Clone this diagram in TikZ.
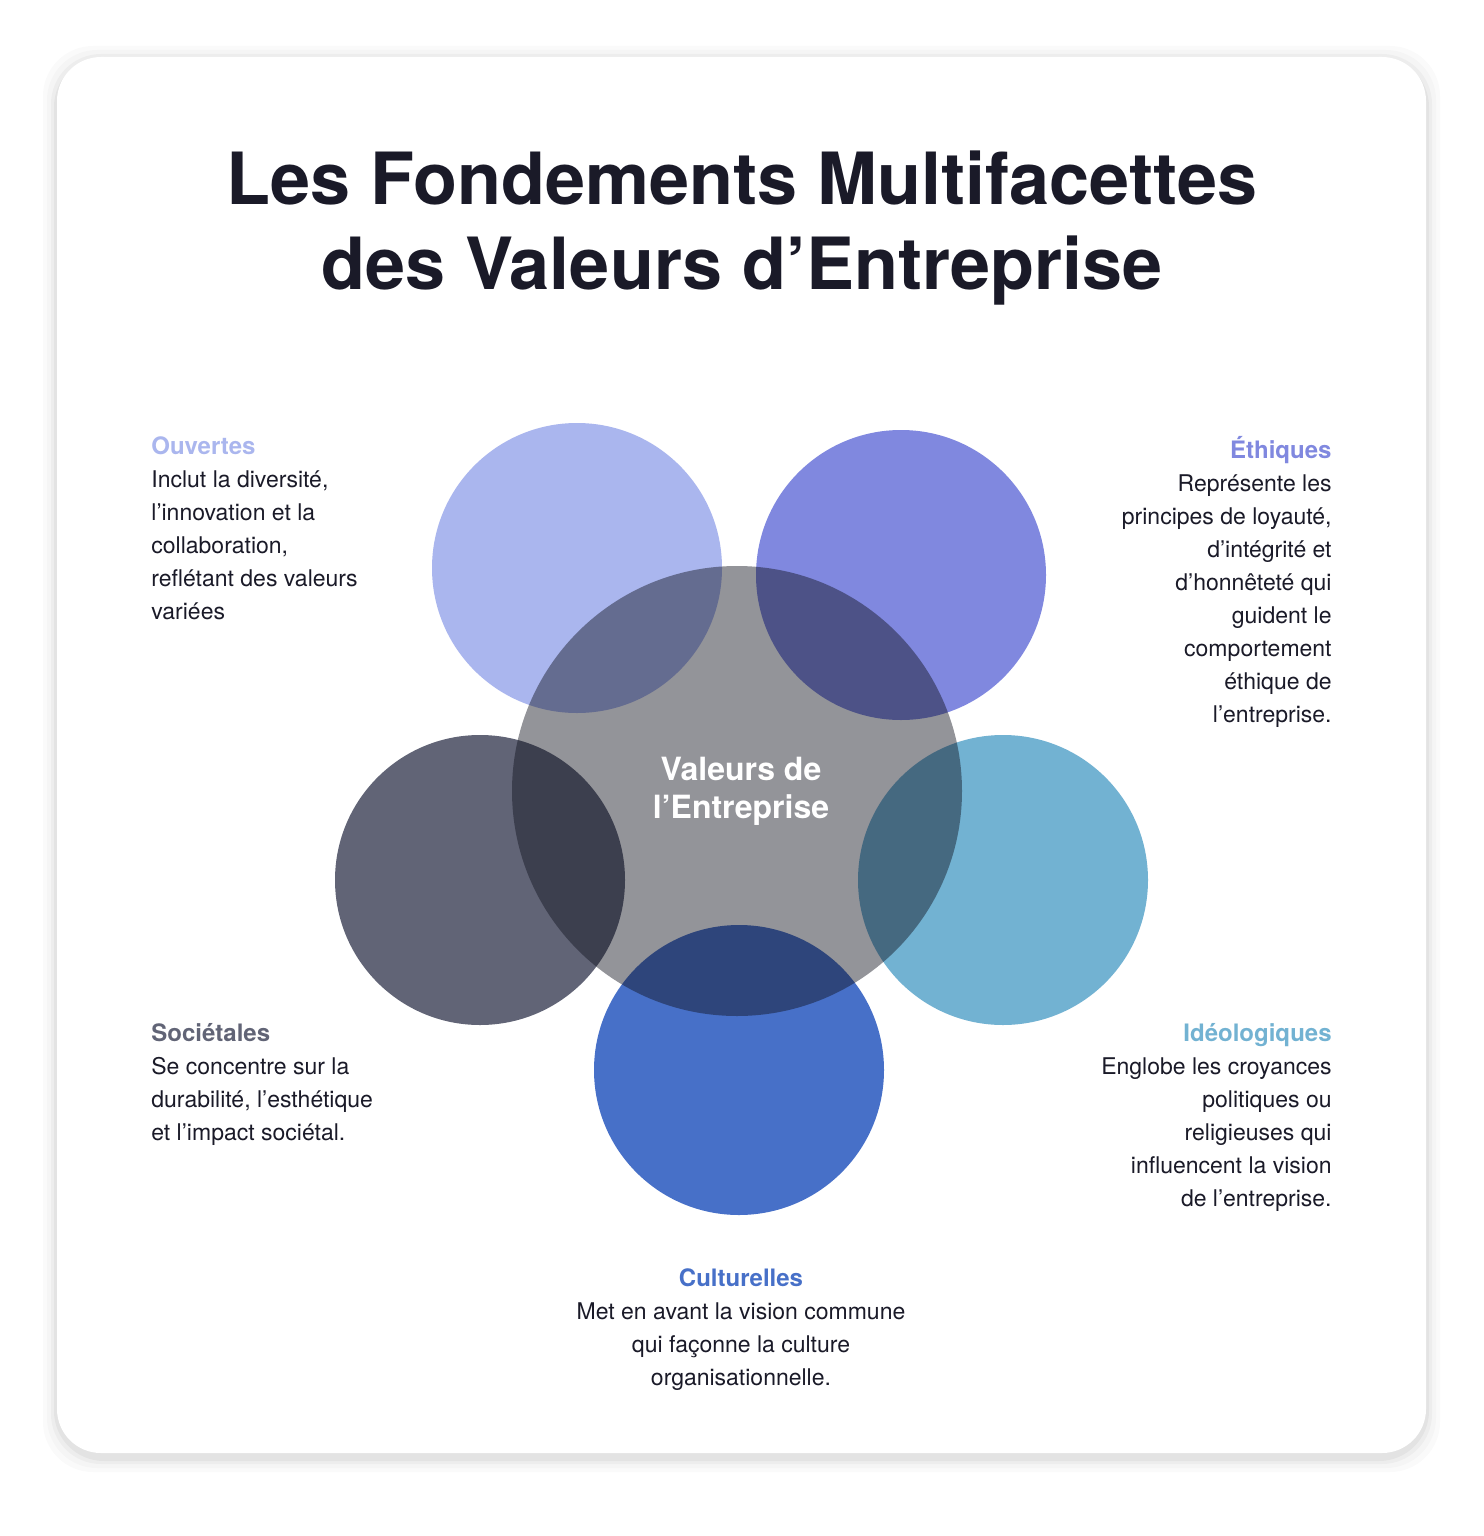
\documentclass[tikz,border=0pt]{standalone}
\usepackage{fontspec}
\setmainfont{TeX Gyre Heros}
\usetikzlibrary{positioning}
\definecolor{ink}{HTML}{1A1A28}
\definecolor{ou}{HTML}{AAB6EE}
\definecolor{et}{HTML}{8088DF}
\definecolor{id}{HTML}{72B2D2}
\definecolor{cu}{HTML}{4770C8}
\definecolor{so}{HTML}{616476}
\definecolor{ce}{HTML}{10121E}
\newcommand{\facethead}[2]{{\fontsize{12}{16.5}\selectfont\bfseries\color{#1}#2}}
\tikzset{
  facet/.style={circle, minimum size=145pt, inner sep=0pt},
  blurb/.style={inner sep=0pt, font=\fontsize{11.5}{16.5}\selectfont, text=ink}
}
\begin{document}
\begin{tikzpicture}[x=0.5pt,y=-0.5pt]
  \useasboundingbox (0,0) rectangle (1483,1536);
  \fill[white] (0,0) rectangle (1483,1536);
  % card with soft shadow
  \foreach \s/\o in {14/0.02,10/0.02,6/0.03,3/0.04}
    \fill[black, opacity=\o, rounded corners=25pt] (57-\s,60-\s) rectangle (1426+\s,1458+\s);
  \fill[white, rounded corners=22pt] (57,57) rectangle (1426,1453);

  \node[font=\fontsize{36}{42.5}\selectfont\bfseries, text=ink, align=center] (title) at (742,228)
    {Les Fondements Multifacettes\\des Valeurs d'Entreprise};

  % circles
  \node[facet, fill=ou] (ouv) at (577,568) {};
  \node[facet, fill=et] (eth) at (901,575) {};
  \node[facet, fill=id] (ideo) at (1003,880) {};
  \node[facet, fill=so] (soc) at (480,880) {};
  \node[facet, fill=cu] (cult) at (739,1070) {};
  \node[circle, minimum size=225pt, inner sep=0pt, fill=ce, fill opacity=0.45] (core) at (737,791) {};
  \node[font=\fontsize{16}{19}\selectfont\bfseries, text=white, align=center] (corel) at (741,791)
    {Valeurs de\\l'Entreprise};

  % descriptions
  \node[blurb, anchor=north west, align=left] (ouvt) at (151,436)
    {\facethead{ou}{Ouvertes}\\Inclut la diversité,\\l'innovation et la\\collaboration,\\reflétant des valeurs\\variées};
  \node[blurb, anchor=north east, align=right] (etht) at (1332,436)
    {\facethead{et}{Éthiques}\\Représente les\\principes de loyauté,\\d'intégrité et\\d'honnêteté qui\\guident le\\comportement\\éthique de\\l'entreprise.};
  \node[blurb, anchor=north west, align=left] (soct) at (151,1023)
    {\facethead{so}{Sociétales}\\Se concentre sur la\\durabilité, l'esthétique\\et l'impact sociétal.};
  \node[blurb, anchor=north east, align=right] (ideot) at (1332,1023)
    {\facethead{id}{Idéologiques}\\Englobe les croyances\\politiques ou\\religieuses qui\\influencent la vision\\de l'entreprise.};
  \node[blurb, anchor=north, align=center] (cultt) at (741,1268)
    {\facethead{cu}{Culturelles}\\Met en avant la vision commune\\qui façonne la culture\\organisationnelle.};
\end{tikzpicture}
\end{document}
